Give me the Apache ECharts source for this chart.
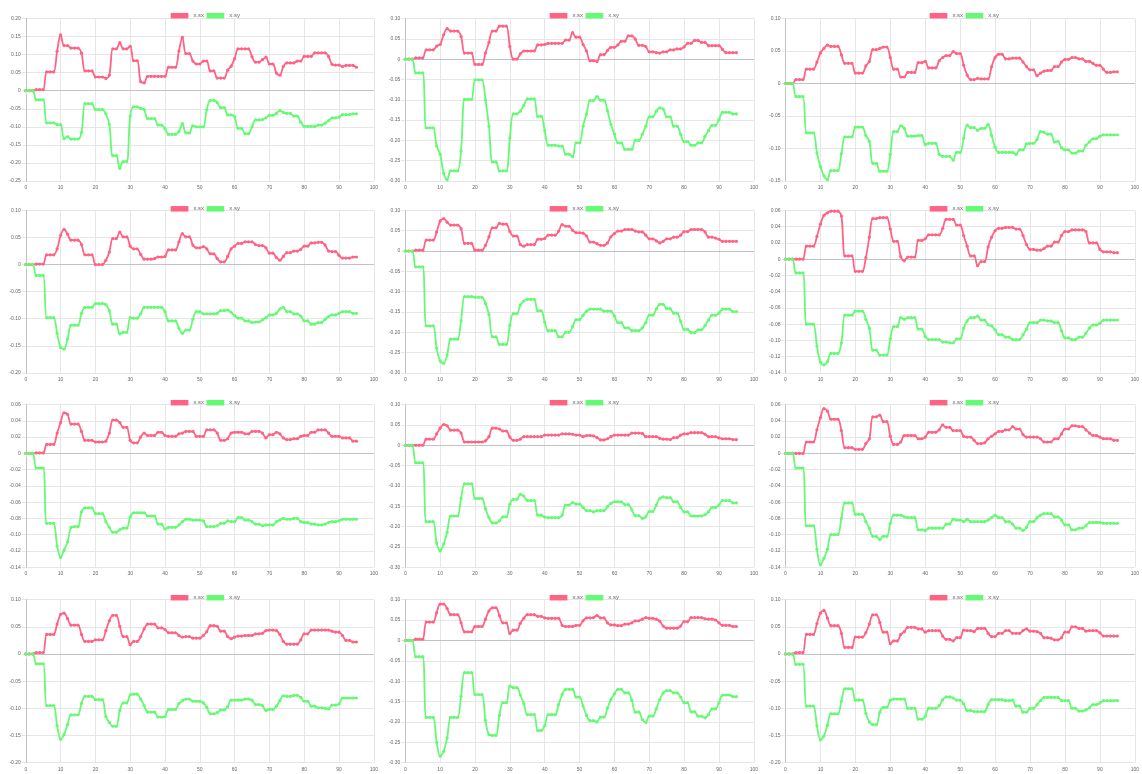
<!DOCTYPE html>
<html>
<head>
<meta charset="utf-8">
<script src="https://cdn.jsdelivr.net/npm/echarts/dist/echarts.min.js"></script>
<style>
  html, body { margin: 0; padding: 0; background: #fff; width: 1142px; height: 774px; overflow: hidden; }
  .cell { position: absolute; overflow: hidden; }
</style>
</head>
<body>
<script>
// ---- data: twelve runs, each with x.sx and x.sy sampled at steps 0..95 ----
const seriesNames = ['x.sx', 'x.sy'];
const xTickMin = 0, xTickMax = 100, xTickStep = 10;
const yMin  = [-0.25, -0.30, -0.15, -0.20, -0.30, -0.14, -0.14, -0.30, -0.14, -0.20, -0.30, -0.20];
const yMax  = [ 0.20,  0.10,  0.10,  0.10,  0.10,  0.06,  0.06,  0.10,  0.06,  0.10,  0.10,  0.10];
const yStep = [ 0.05,  0.05,  0.05,  0.05,  0.05,  0.02,  0.02,  0.05,  0.02,  0.05,  0.05,  0.05];

const sx1 = [0,0,0,0.003,0.003,0.003,0.052,0.052,0.052,0.109,
0.155,0.125,0.125,0.118,0.118,0.118,0.104,0.055,0.055,0.055,
0.038,0.038,0.038,0.034,0.043,0.116,0.116,0.133,0.116,0.116,
0.123,0.083,0.083,0.025,0.022,0.040,0.040,0.040,0.040,0.040,
0.040,0.065,0.065,0.065,0.110,0.148,0.103,0.103,0.082,0.074,
0.074,0.082,0.082,0.055,0.055,0.035,0.035,0.035,0.057,0.068,
0.089,0.116,0.116,0.116,0.116,0.094,0.079,0.079,0.086,0.093,
0.074,0.074,0.049,0.043,0.067,0.077,0.077,0.077,0.082,0.082,
0.095,0.095,0.095,0.105,0.105,0.105,0.105,0.095,0.073,0.071,
0.071,0.067,0.070,0.070,0.070,0.065];
const sy1 = [0,0,0,-0.025,-0.025,-0.025,-0.089,-0.089,-0.089,-0.094,
-0.094,-0.133,-0.127,-0.134,-0.134,-0.134,-0.116,-0.036,-0.036,-0.036,
-0.052,-0.052,-0.052,-0.064,-0.093,-0.180,-0.180,-0.215,-0.196,-0.196,
-0.070,-0.045,-0.045,-0.049,-0.052,-0.077,-0.077,-0.077,-0.095,-0.095,
-0.105,-0.121,-0.121,-0.121,-0.113,-0.091,-0.117,-0.117,-0.097,-0.100,
-0.100,-0.100,-0.052,-0.027,-0.027,-0.033,-0.047,-0.047,-0.067,-0.067,
-0.072,-0.104,-0.104,-0.119,-0.119,-0.100,-0.081,-0.081,-0.080,-0.075,
-0.068,-0.068,-0.063,-0.055,-0.060,-0.063,-0.063,-0.070,-0.070,-0.087,
-0.099,-0.099,-0.099,-0.099,-0.095,-0.095,-0.090,-0.083,-0.075,-0.075,
-0.073,-0.066,-0.066,-0.066,-0.064,-0.064];

const sx2 = [0,0,0,0.003,0.003,0.003,0.023,0.023,0.023,0.032,
0.036,0.060,0.075,0.069,0.069,0.069,0.056,0.015,0.015,0.015,
-0.013,-0.013,-0.013,0.015,0.041,0.069,0.069,0.081,0.081,0.081,
0.031,0.000,0.000,0.013,0.020,0.020,0.020,0.020,0.035,0.035,
0.036,0.039,0.039,0.039,0.039,0.039,0.047,0.047,0.065,0.054,
0.054,0.036,0.020,-0.004,-0.004,-0.006,0.011,0.011,0.021,0.029,
0.029,0.035,0.044,0.044,0.057,0.057,0.049,0.034,0.034,0.031,
0.018,0.018,0.016,0.015,0.018,0.018,0.023,0.023,0.025,0.025,
0.030,0.039,0.039,0.046,0.046,0.041,0.041,0.033,0.033,0.033,
0.033,0.024,0.016,0.016,0.016,0.016];
const sy2 = [0,0,0,-0.034,-0.034,-0.034,-0.169,-0.169,-0.169,-0.214,
-0.234,-0.281,-0.297,-0.275,-0.275,-0.275,-0.226,-0.099,-0.099,-0.099,
-0.051,-0.051,-0.051,-0.100,-0.165,-0.253,-0.253,-0.275,-0.275,-0.275,
-0.194,-0.135,-0.135,-0.128,-0.114,-0.098,-0.098,-0.098,-0.141,-0.141,
-0.176,-0.212,-0.212,-0.212,-0.214,-0.214,-0.234,-0.234,-0.240,-0.206,
-0.206,-0.165,-0.135,-0.102,-0.102,-0.092,-0.101,-0.101,-0.127,-0.161,
-0.184,-0.206,-0.206,-0.222,-0.222,-0.222,-0.200,-0.200,-0.185,-0.165,
-0.142,-0.142,-0.128,-0.120,-0.123,-0.142,-0.142,-0.165,-0.165,-0.185,
-0.203,-0.203,-0.212,-0.212,-0.206,-0.206,-0.190,-0.176,-0.163,-0.163,
-0.149,-0.131,-0.131,-0.131,-0.135,-0.135];

const sx3 = [0,0,0,0.006,0.006,0.006,0.022,0.022,0.022,0.033,
0.047,0.054,0.059,0.057,0.057,0.057,0.044,0.031,0.031,0.031,
0.016,0.016,0.016,0.027,0.034,0.052,0.052,0.054,0.056,0.056,
0.040,0.022,0.022,0.010,0.010,0.017,0.017,0.017,0.032,0.032,
0.034,0.024,0.024,0.024,0.035,0.040,0.043,0.043,0.049,0.046,
0.046,0.028,0.013,0.006,0.006,0.008,0.007,0.007,0.007,0.026,
0.040,0.045,0.045,0.038,0.038,0.039,0.039,0.039,0.033,0.026,
0.021,0.021,0.012,0.016,0.019,0.020,0.020,0.026,0.026,0.033,
0.037,0.037,0.040,0.040,0.038,0.038,0.034,0.034,0.031,0.028,
0.028,0.022,0.017,0.017,0.018,0.018];
const sy3 = [0,0,0,-0.020,-0.020,-0.020,-0.076,-0.076,-0.076,-0.107,
-0.128,-0.142,-0.148,-0.134,-0.134,-0.134,-0.108,-0.082,-0.082,-0.082,
-0.067,-0.067,-0.067,-0.080,-0.089,-0.123,-0.123,-0.135,-0.135,-0.135,
-0.109,-0.074,-0.074,-0.065,-0.069,-0.081,-0.081,-0.081,-0.080,-0.080,
-0.094,-0.092,-0.092,-0.092,-0.109,-0.112,-0.112,-0.112,-0.118,-0.106,
-0.106,-0.084,-0.064,-0.068,-0.068,-0.072,-0.069,-0.069,-0.063,-0.080,
-0.098,-0.106,-0.106,-0.106,-0.106,-0.106,-0.109,-0.102,-0.102,-0.093,
-0.092,-0.092,-0.086,-0.074,-0.075,-0.078,-0.078,-0.090,-0.089,-0.099,
-0.102,-0.102,-0.107,-0.107,-0.104,-0.104,-0.095,-0.090,-0.085,-0.085,
-0.081,-0.079,-0.079,-0.079,-0.079,-0.079];

const sx4 = [0,0,0,0.001,0.001,0.001,0.018,0.018,0.018,0.029,
0.054,0.065,0.056,0.045,0.045,0.045,0.037,0.018,0.018,0.018,
0,0,0,0.008,0.023,0.048,0.048,0.060,0.051,0.051,
0.034,0.029,0.029,0.019,0.010,0.010,0.010,0.011,0.014,0.014,
0.015,0.027,0.027,0.027,0.042,0.057,0.051,0.051,0.036,0.031,
0.031,0.033,0.029,0.020,0.020,0.011,0.005,0.005,0.015,0.029,
0.034,0.039,0.039,0.042,0.042,0.042,0.037,0.035,0.035,0.031,
0.021,0.021,0.013,0.008,0.015,0.022,0.022,0.025,0.025,0.028,
0.034,0.034,0.040,0.040,0.041,0.041,0.036,0.025,0.024,0.024,
0.017,0.012,0.012,0.012,0.014,0.014];
const sy4 = [0,0,0,-0.020,-0.020,-0.020,-0.098,-0.098,-0.098,-0.127,
-0.153,-0.156,-0.137,-0.112,-0.112,-0.112,-0.090,-0.079,-0.079,-0.079,
-0.072,-0.072,-0.072,-0.074,-0.085,-0.110,-0.110,-0.128,-0.125,-0.125,
-0.098,-0.099,-0.099,-0.091,-0.079,-0.079,-0.079,-0.079,-0.079,-0.079,
-0.087,-0.104,-0.104,-0.104,-0.118,-0.127,-0.121,-0.121,-0.101,-0.087,
-0.087,-0.091,-0.091,-0.091,-0.091,-0.090,-0.085,-0.085,-0.084,-0.088,
-0.094,-0.099,-0.099,-0.104,-0.104,-0.107,-0.106,-0.106,-0.102,-0.098,
-0.093,-0.093,-0.090,-0.082,-0.079,-0.087,-0.087,-0.091,-0.091,-0.095,
-0.104,-0.104,-0.110,-0.110,-0.107,-0.107,-0.101,-0.096,-0.093,-0.093,
-0.090,-0.087,-0.087,-0.087,-0.090,-0.090];

const sx5 = [0,0,0,0.002,0.002,0.002,0.027,0.027,0.027,0.047,
0.074,0.080,0.071,0.064,0.064,0.064,0.055,0.019,0.019,0.019,
0.002,0.002,0.002,0.014,0.035,0.057,0.057,0.068,0.066,0.066,
0.048,0.037,0.037,0.016,0.012,0.016,0.016,0.016,0.029,0.029,
0.031,0.039,0.039,0.039,0.049,0.065,0.061,0.061,0.051,0.045,
0.045,0.044,0.037,0.022,0.022,0.018,0.014,0.014,0.020,0.035,
0.043,0.049,0.049,0.053,0.053,0.053,0.049,0.047,0.047,0.039,
0.030,0.030,0.025,0.020,0.024,0.030,0.030,0.034,0.034,0.039,
0.048,0.048,0.053,0.053,0.053,0.053,0.047,0.034,0.034,0.032,
0.029,0.024,0.024,0.024,0.024,0.024];
const sy5 = [0,0,0,-0.039,-0.039,-0.039,-0.184,-0.184,-0.184,-0.239,
-0.271,-0.276,-0.256,-0.217,-0.217,-0.217,-0.172,-0.112,-0.112,-0.112,
-0.114,-0.114,-0.114,-0.129,-0.156,-0.211,-0.211,-0.230,-0.230,-0.230,
-0.183,-0.154,-0.154,-0.133,-0.123,-0.119,-0.119,-0.119,-0.147,-0.147,
-0.175,-0.196,-0.196,-0.196,-0.211,-0.211,-0.200,-0.200,-0.186,-0.169,
-0.169,-0.158,-0.148,-0.143,-0.143,-0.143,-0.143,-0.148,-0.148,-0.148,
-0.160,-0.176,-0.176,-0.189,-0.189,-0.196,-0.196,-0.196,-0.189,-0.176,
-0.158,-0.158,-0.143,-0.131,-0.131,-0.142,-0.142,-0.153,-0.153,-0.173,
-0.193,-0.193,-0.201,-0.201,-0.194,-0.194,-0.183,-0.170,-0.158,-0.158,
-0.153,-0.143,-0.143,-0.143,-0.149,-0.149];

const sx6 = [0,0,0,0,0,0,0.016,0.016,0.016,0.028,
0.043,0.054,0.057,0.059,0.059,0.059,0.053,0.004,0.004,0.004,
-0.015,-0.015,-0.015,0.002,0.027,0.050,0.050,0.051,0.051,0.051,
0.037,0.022,0.022,0.003,-0.002,0.0025,0.0025,0.0025,0.023,0.023,
0.025,0.030,0.030,0.030,0.030,0.038,0.049,0.049,0.049,0.042,
0.042,0.029,0.016,0.004,0.004,-0.008,-0.003,-0.003,0.015,0.027,
0.035,0.038,0.038,0.039,0.039,0.039,0.037,0.037,0.029,0.018,
0.012,0.012,0.011,0.011,0.013,0.016,0.016,0.021,0.021,0.029,
0.034,0.034,0.036,0.036,0.036,0.036,0.034,0.020,0.020,0.020,
0.012,0.009,0.009,0.009,0.008,0.008];
const sy6 = [0,0,0,-0.017,-0.017,-0.017,-0.080,-0.080,-0.080,-0.107,
-0.127,-0.130,-0.126,-0.116,-0.116,-0.116,-0.103,-0.069,-0.069,-0.069,
-0.064,-0.064,-0.064,-0.074,-0.085,-0.112,-0.112,-0.118,-0.118,-0.118,
-0.098,-0.083,-0.083,-0.072,-0.074,-0.072,-0.072,-0.072,-0.086,-0.086,
-0.095,-0.099,-0.099,-0.099,-0.099,-0.102,-0.102,-0.103,-0.103,-0.098,
-0.098,-0.085,-0.076,-0.072,-0.072,-0.070,-0.075,-0.075,-0.081,-0.082,
-0.087,-0.093,-0.093,-0.096,-0.096,-0.099,-0.099,-0.099,-0.093,-0.086,
-0.078,-0.078,-0.078,-0.075,-0.075,-0.076,-0.076,-0.078,-0.078,-0.088,
-0.097,-0.097,-0.099,-0.099,-0.096,-0.096,-0.091,-0.085,-0.081,-0.081,
-0.079,-0.075,-0.075,-0.075,-0.075,-0.075];

const sx7 = [0,0,0,0.0005,0.0005,0.0005,0.011,0.011,0.011,0.025,
0.038,0.050,0.048,0.036,0.036,0.036,0.027,0.016,0.016,0.016,
0.014,0.014,0.014,0.015,0.025,0.041,0.041,0.038,0.032,0.032,
0.016,0.013,0.013,0.020,0.025,0.022,0.022,0.022,0.026,0.026,
0.022,0.021,0.021,0.021,0.024,0.025,0.027,0.027,0.027,0.021,
0.021,0.021,0.029,0.029,0.029,0.025,0.016,0.016,0.018,0.025,
0.026,0.026,0.026,0.024,0.024,0.027,0.027,0.027,0.025,0.019,
0.023,0.023,0.026,0.024,0.019,0.017,0.017,0.018,0.018,0.021,
0.022,0.022,0.026,0.026,0.029,0.029,0.029,0.025,0.021,0.021,
0.021,0.019,0.019,0.019,0.015,0.015];
const sy7 = [0,0,0,-0.018,-0.018,-0.018,-0.086,-0.086,-0.086,-0.114,
-0.128,-0.119,-0.109,-0.091,-0.090,-0.090,-0.072,-0.067,-0.067,-0.067,
-0.074,-0.074,-0.074,-0.084,-0.091,-0.097,-0.097,-0.094,-0.092,-0.092,
-0.078,-0.073,-0.073,-0.073,-0.073,-0.077,-0.077,-0.077,-0.087,-0.087,
-0.093,-0.091,-0.091,-0.091,-0.088,-0.084,-0.081,-0.081,-0.082,-0.082,
-0.082,-0.083,-0.090,-0.090,-0.090,-0.089,-0.086,-0.086,-0.083,-0.084,
-0.084,-0.079,-0.079,-0.082,-0.082,-0.084,-0.087,-0.087,-0.089,-0.088,
-0.088,-0.088,-0.084,-0.082,-0.080,-0.081,-0.081,-0.080,-0.080,-0.084,
-0.085,-0.085,-0.087,-0.087,-0.088,-0.088,-0.087,-0.085,-0.084,-0.084,
-0.083,-0.081,-0.081,-0.081,-0.081,-0.081];

const sx8 = [0,0,0,0,0,0,0.015,0.015,0.015,0.028,
0.042,0.051,0.048,0.037,0.037,0.037,0.030,0.008,0.008,0.008,
0.008,0.008,0.008,0.011,0.021,0.042,0.042,0.040,0.035,0.035,
0.020,0.012,0.012,0.015,0.021,0.021,0.021,0.021,0.021,0.021,
0.025,0.025,0.025,0.025,0.025,0.028,0.028,0.028,0.027,0.025,
0.025,0.021,0.024,0.024,0.023,0.019,0.013,0.013,0.016,0.021,
0.025,0.025,0.025,0.025,0.025,0.030,0.030,0.030,0.029,0.021,
0.021,0.021,0.021,0.017,0.015,0.015,0.014,0.019,0.019,0.025,
0.028,0.028,0.031,0.031,0.031,0.031,0.027,0.021,0.021,0.021,
0.018,0.016,0.016,0.016,0.014,0.014];
const sy8 = [0,0,0,-0.043,-0.043,-0.043,-0.188,-0.188,-0.188,-0.240,
-0.260,-0.243,-0.214,-0.174,-0.174,-0.174,-0.131,-0.095,-0.095,-0.095,
-0.131,-0.131,-0.131,-0.156,-0.178,-0.191,-0.191,-0.186,-0.176,-0.176,
-0.145,-0.133,-0.133,-0.121,-0.125,-0.136,-0.136,-0.136,-0.172,-0.172,
-0.177,-0.178,-0.178,-0.178,-0.178,-0.172,-0.147,-0.147,-0.141,-0.145,
-0.145,-0.153,-0.161,-0.161,-0.164,-0.161,-0.161,-0.161,-0.151,-0.143,
-0.139,-0.139,-0.139,-0.146,-0.146,-0.159,-0.173,-0.173,-0.180,-0.176,
-0.163,-0.163,-0.147,-0.131,-0.127,-0.129,-0.129,-0.139,-0.139,-0.153,
-0.164,-0.164,-0.174,-0.174,-0.174,-0.174,-0.171,-0.164,-0.153,-0.153,
-0.147,-0.136,-0.136,-0.136,-0.142,-0.142];

const sx9 = [0,0,0,0,0,0,0.014,0.014,0.014,0.029,
0.044,0.055,0.052,0.042,0.042,0.042,0.028,0.007,0.007,0.007,
0.005,0.005,0.005,0.012,0.018,0.045,0.045,0.047,0.039,0.039,
0.021,0.011,0.011,0.014,0.022,0.022,0.022,0.022,0.018,0.018,
0.020,0.026,0.026,0.026,0.029,0.035,0.032,0.032,0.028,0.028,
0.028,0.021,0.020,0.020,0.016,0.012,0.012,0.013,0.018,0.021,
0.024,0.027,0.027,0.029,0.029,0.033,0.030,0.030,0.023,0.020,
0.020,0.020,0.020,0.018,0.014,0.014,0.014,0.018,0.018,0.024,
0.030,0.030,0.034,0.034,0.033,0.033,0.029,0.025,0.022,0.022,
0.020,0.018,0.018,0.018,0.016,0.016];
const sy9 = [0,0,0,-0.018,-0.018,-0.018,-0.089,-0.089,-0.089,-0.118,
-0.137,-0.129,-0.118,-0.100,-0.100,-0.100,-0.080,-0.061,-0.061,-0.061,
-0.075,-0.075,-0.075,-0.084,-0.092,-0.102,-0.102,-0.106,-0.102,-0.102,
-0.086,-0.076,-0.076,-0.076,-0.078,-0.079,-0.079,-0.079,-0.094,-0.094,
-0.095,-0.092,-0.092,-0.092,-0.092,-0.092,-0.087,-0.087,-0.081,-0.082,
-0.082,-0.084,-0.081,-0.084,-0.084,-0.084,-0.084,-0.084,-0.082,-0.079,
-0.076,-0.079,-0.079,-0.084,-0.084,-0.087,-0.092,-0.092,-0.095,-0.091,
-0.084,-0.084,-0.079,-0.076,-0.074,-0.074,-0.074,-0.078,-0.078,-0.082,
-0.088,-0.088,-0.094,-0.094,-0.092,-0.092,-0.089,-0.085,-0.085,-0.085,
-0.085,-0.086,-0.086,-0.086,-0.086,-0.086];

const sx10 = [0,0,0,0.0025,0.0025,0.0025,0.036,0.036,0.036,0.055,
0.073,0.075,0.065,0.053,0.053,0.053,0.036,0.023,0.023,0.023,
0.026,0.026,0.026,0.043,0.061,0.071,0.071,0.051,0.032,0.032,
0.017,0.023,0.023,0.032,0.046,0.055,0.055,0.055,0.048,0.048,
0.045,0.039,0.039,0.039,0.034,0.031,0.032,0.032,0.029,0.029,
0.029,0.034,0.041,0.052,0.052,0.051,0.042,0.042,0.032,0.028,
0.031,0.033,0.033,0.034,0.034,0.034,0.037,0.037,0.038,0.043,
0.044,0.044,0.043,0.036,0.023,0.018,0.018,0.018,0.018,0.026,
0.037,0.037,0.044,0.044,0.044,0.044,0.044,0.044,0.042,0.040,
0.040,0.034,0.025,0.025,0.022,0.022];
const sy10 = [0,0,0,-0.018,-0.018,-0.018,-0.095,-0.095,-0.095,-0.132,
-0.157,-0.148,-0.130,-0.112,-0.112,-0.112,-0.091,-0.078,-0.078,-0.078,
-0.084,-0.084,-0.084,-0.115,-0.126,-0.133,-0.133,-0.104,-0.090,-0.090,
-0.075,-0.074,-0.074,-0.083,-0.095,-0.107,-0.107,-0.107,-0.116,-0.116,
-0.115,-0.102,-0.102,-0.102,-0.091,-0.086,-0.083,-0.083,-0.087,-0.087,
-0.087,-0.090,-0.098,-0.110,-0.110,-0.108,-0.103,-0.103,-0.097,-0.085,
-0.085,-0.085,-0.085,-0.083,-0.083,-0.085,-0.093,-0.093,-0.095,-0.104,
-0.102,-0.102,-0.096,-0.086,-0.077,-0.078,-0.078,-0.076,-0.076,-0.080,
-0.087,-0.087,-0.096,-0.096,-0.099,-0.099,-0.100,-0.101,-0.094,-0.094,
-0.092,-0.081,-0.081,-0.081,-0.081,-0.081];

const sx11 = [0,0,0,0.003,0.003,0.003,0.045,0.045,0.045,0.068,
0.089,0.089,0.078,0.063,0.063,0.063,0.043,0.021,0.021,0.021,
0.034,0.034,0.034,0.052,0.072,0.080,0.080,0.061,0.043,0.043,
0.017,0.025,0.025,0.042,0.054,0.063,0.063,0.063,0.059,0.059,
0.055,0.054,0.054,0.054,0.054,0.037,0.034,0.034,0.034,0.037,
0.037,0.048,0.055,0.055,0.056,0.061,0.055,0.055,0.043,0.038,
0.038,0.036,0.036,0.040,0.040,0.043,0.048,0.048,0.052,0.056,
0.054,0.054,0.052,0.047,0.035,0.030,0.030,0.030,0.030,0.035,
0.046,0.046,0.056,0.056,0.056,0.056,0.053,0.052,0.052,0.050,
0.043,0.037,0.037,0.037,0.034,0.034];
const sy11 = [0,0,0,-0.040,-0.040,-0.040,-0.189,-0.189,-0.189,-0.250,
-0.284,-0.272,-0.239,-0.189,-0.189,-0.189,-0.137,-0.079,-0.079,-0.079,
-0.133,-0.133,-0.133,-0.196,-0.231,-0.233,-0.233,-0.184,-0.153,-0.153,
-0.112,-0.116,-0.116,-0.134,-0.155,-0.182,-0.182,-0.182,-0.221,-0.221,
-0.209,-0.182,-0.182,-0.182,-0.157,-0.133,-0.120,-0.120,-0.120,-0.139,
-0.139,-0.161,-0.184,-0.197,-0.197,-0.200,-0.188,-0.188,-0.166,-0.145,
-0.131,-0.120,-0.120,-0.129,-0.129,-0.147,-0.176,-0.176,-0.194,-0.201,
-0.186,-0.186,-0.168,-0.145,-0.129,-0.123,-0.123,-0.129,-0.129,-0.139,
-0.153,-0.153,-0.175,-0.175,-0.186,-0.186,-0.190,-0.182,-0.168,-0.168,
-0.153,-0.134,-0.134,-0.134,-0.138,-0.138];

const sx12 = [0,0,0,0.0025,0.0025,0.0025,0.036,0.036,0.036,0.056,
0.075,0.080,0.066,0.052,0.052,0.052,0.038,0.012,0.012,0.012,
0.031,0.031,0.031,0.039,0.055,0.072,0.072,0.058,0.040,0.040,
0.019,0.024,0.024,0.036,0.041,0.049,0.049,0.049,0.046,0.046,
0.040,0.043,0.043,0.043,0.043,0.033,0.027,0.027,0.024,0.030,
0.030,0.044,0.043,0.043,0.041,0.047,0.047,0.047,0.038,0.032,
0.032,0.038,0.038,0.043,0.043,0.038,0.038,0.038,0.043,0.046,
0.042,0.042,0.041,0.038,0.030,0.030,0.029,0.026,0.026,0.030,
0.040,0.040,0.050,0.050,0.047,0.047,0.042,0.043,0.043,0.043,
0.039,0.033,0.033,0.033,0.033,0.033];
const sy12 = [0,0,0,-0.019,-0.019,-0.019,-0.096,-0.096,-0.096,-0.132,
-0.158,-0.151,-0.131,-0.110,-0.110,-0.110,-0.087,-0.064,-0.064,-0.064,
-0.085,-0.085,-0.085,-0.109,-0.125,-0.130,-0.130,-0.107,-0.098,-0.098,
-0.085,-0.083,-0.083,-0.083,-0.083,-0.100,-0.100,-0.100,-0.120,-0.120,
-0.115,-0.100,-0.100,-0.100,-0.095,-0.084,-0.079,-0.079,-0.081,-0.085,
-0.085,-0.092,-0.104,-0.104,-0.106,-0.106,-0.106,-0.106,-0.093,-0.084,
-0.084,-0.084,-0.084,-0.086,-0.086,-0.085,-0.096,-0.096,-0.107,-0.107,
-0.100,-0.100,-0.093,-0.086,-0.080,-0.080,-0.080,-0.080,-0.080,-0.086,
-0.086,-0.086,-0.100,-0.100,-0.105,-0.105,-0.103,-0.099,-0.093,-0.093,
-0.090,-0.086,-0.086,-0.086,-0.086,-0.086];

// ---- layout of the 4 x 3 panel grid (pixels) ----
const colLeft = [0, 381, 761], colWidth = [381, 380, 381];
const rowTop = [0, 193, 387, 580], rowHeight = [193, 194, 193, 194];
const plotTop = [18.5, 17.4, 17.6, 19.6], plotBottom = [12, 14.1, 12.8, 11.3];
const plotLeft = [25.8, 24.3, 24.5], plotRight = [2.7, 3.3, 3.7];
const legendTop = [7.7, 7.8, 7.7, 9.7], legendLeft = [165.7, 163.7, 163.7];

const RED = 'rgb(255,99,132)';
const GREEN = 'rgb(100,250,115)';
const GRID_COLOR = '#e6e6e6';
const ZERO_COLOR = '#c2c2c2';
const FONT = '"Liberation Sans", Arial, Helvetica, sans-serif';

const SX = [sx1, sx2, sx3, sx4, sx5, sx6, sx7, sx8, sx9, sx10, sx11, sx12];
const SY = [sy1, sy2, sy3, sy4, sy5, sy6, sy7, sy8, sy9, sy10, sy11, sy12];

function yLabel(v) {
  return Math.abs(v) < 1e-9 ? '0' : v.toFixed(2);
}

function lineSeries(name, values, color, withZero) {
  const s = {
    name: name,
    type: 'line',
    data: values.map((v, i) => [i, v]),
    smooth: 0.35,
    symbol: 'circle',
    symbolSize: 3.2,
    showSymbol: true,
    lineStyle: { color: color, width: 1.8 },
    itemStyle: { color: color },
    emphasis: { disabled: true },
    z: 3
  };
  if (withZero) {
    s.markLine = {
      silent: true,
      symbol: 'none',
      z: 1,
      label: { show: false },
      lineStyle: { color: ZERO_COLOR, width: 1, type: 'solid' },
      emphasis: { disabled: true },
      data: [{ yAxis: 0 }]
    };
  }
  return s;
}

for (let k = 0; k < 12; k++) {
  const r = Math.floor(k / 3), c = k % 3;
  const div = document.createElement('div');
  div.className = 'cell';
  div.style.left = colLeft[c] + 'px';
  div.style.top = rowTop[r] + 'px';
  div.style.width = colWidth[c] + 'px';
  div.style.height = rowHeight[r] + 'px';
  document.body.appendChild(div);

  const chart = echarts.init(div, null, { renderer: 'canvas' });
  chart.setOption({
    animation: false,
    textStyle: { fontFamily: FONT },
    legend: {
      data: seriesNames,
      top: legendTop[r],
      left: legendLeft[c],
      icon: 'rect',
      itemWidth: 17.7,
      itemHeight: 5.5,
      itemGap: 2.5,
      selectedMode: false,
      textStyle: { fontSize: 6, color: '#666', fontFamily: FONT, lineHeight: 6 }
    },
    grid: {
      left: plotLeft[c],
      right: plotRight[c],
      top: plotTop[r],
      bottom: plotBottom[r],
      containLabel: false
    },
    xAxis: {
      type: 'value',
      min: xTickMin,
      max: xTickMax,
      interval: xTickStep,
      axisLine: { show: true, lineStyle: { color: GRID_COLOR } },
      axisTick: { show: true, length: 4, lineStyle: { color: GRID_COLOR } },
      axisLabel: { fontSize: 5, color: '#666', margin: 4, fontFamily: FONT, showMaxLabel: true },
      splitLine: { show: true, lineStyle: { color: GRID_COLOR, width: 1 } }
    },
    yAxis: {
      type: 'value',
      min: yMin[k],
      max: yMax[k],
      interval: yStep[k],
      axisLine: { show: true, lineStyle: { color: ZERO_COLOR } },
      axisTick: { show: true, length: 4, lineStyle: { color: GRID_COLOR } },
      axisLabel: { fontSize: 5, color: '#666', margin: 5, fontFamily: FONT, formatter: yLabel },
      splitLine: { show: true, lineStyle: { color: GRID_COLOR, width: 1 } }
    },
    series: [
      lineSeries(seriesNames[0], SX[k], RED, true),
      lineSeries(seriesNames[1], SY[k], GREEN, false)
    ]
  });
}
</script>
</body>
</html>
